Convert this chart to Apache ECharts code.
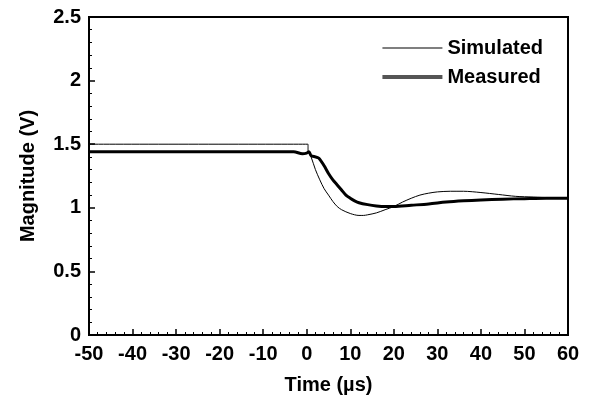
<!DOCTYPE html>
<html>
<head>
<meta charset="utf-8">
<script src="https://cdn.jsdelivr.net/npm/echarts@6/dist/echarts.min.js"></script>
<style>
  html, body { margin:0; padding:0; background:#fff; }
  #chart { width:594px; height:400px; }
</style>
</head>
<body>
<div id="chart"></div>
<script>
// ---- data ----
const simTime = [-50, 0.3, 0.3, 1, 2, 3, 4, 5, 6, 7, 8, 10, 12, 13, 14, 16, 18, 20, 22, 24, 26, 28, 30, 33, 36, 40, 44, 48, 52, 56, 60];
const simVolt = [1.5, 1.5, 1.45, 1.40, 1.30, 1.22, 1.15, 1.10, 1.05, 1.01, 0.985, 0.955, 0.94, 0.94, 0.945, 0.96, 0.985, 1.01, 1.045, 1.075, 1.10, 1.115, 1.125, 1.13, 1.13, 1.12, 1.105, 1.09, 1.085, 1.08, 1.08];

const measTime = [-50, -10, -3, -1, 0, 0.5, 1, 2, 2.8, 4, 5, 6, 7, 8, 9, 10, 11, 12, 14, 16, 18, 20, 24, 28, 32, 36, 40, 45, 50, 55, 60];
const measVolt = [1.44, 1.44, 1.44, 1.425, 1.43, 1.44, 1.41, 1.40, 1.39, 1.33, 1.27, 1.22, 1.18, 1.14, 1.10, 1.075, 1.055, 1.04, 1.025, 1.015, 1.01, 1.01, 1.02, 1.03, 1.045, 1.055, 1.062, 1.068, 1.072, 1.075, 1.075];

const xTicks = { min:-50, max:60, step:10 };
const yTicks = { min:0, max:2.5, step:0.5 };

const pair = (xs, ys) => xs.map((x, i) => [x, ys[i]]);

const font = 'Liberation Sans, Arial, sans-serif';
const bold20 = { fontFamily:font, fontWeight:'bold', fontSize:20, color:'#000' };
const chart = echarts.init(document.getElementById('chart'));
chart.setOption({
  animation:false,
  grid:{ left:89, right:26, top:17, bottom:61, show:true, borderColor:'#000', borderWidth:2, backgroundColor:'transparent' },
  legend:{
    orient:'vertical', right:46, top:33, itemWidth:60, itemHeight:14, itemGap:9,
    textStyle:bold20,
    data:[
      { name:'Simulated', itemStyle:{ opacity:0 }, lineStyle:{ color:'#555', width:1.5 } },
      { name:'Measured', itemStyle:{ opacity:0 }, lineStyle:{ color:'#555', width:4 } }
    ]
  },
  xAxis:{
    type:'value', min:xTicks.min, max:xTicks.max, interval:xTicks.step,
    name:'Time (µs)', nameLocation:'middle', nameGap:40,
    nameTextStyle:bold20,
    axisLine:{ onZero:false, lineStyle:{ color:'#000', width:2 } },
    axisTick:{ inside:true, length:6, lineStyle:{ color:'#000', width:1.5 } },
    minorTick:{ show:true, splitNumber:5, length:3, lineStyle:{ color:'#000' } },
    splitLine:{ show:false },
    axisLabel:Object.assign({ margin:9 }, bold20)
  },
  yAxis:{
    type:'value', min:yTicks.min, max:yTicks.max, interval:yTicks.step,
    name:'Magnitude (V)', nameLocation:'middle', nameGap:51, nameRotate:90,
    nameTextStyle:bold20,
    axisLine:{ onZero:false, lineStyle:{ color:'#000', width:2 } },
    axisTick:{ inside:true, length:6, lineStyle:{ color:'#000', width:1.5 } },
    minorTick:{ show:true, splitNumber:5, length:3, lineStyle:{ color:'#000' } },
    splitLine:{ show:false },
    axisLabel:Object.assign({ margin:8 }, bold20)
  },
  series:[
    { name:'Simulated', type:'line', symbol:'none', smooth:0.3, data:pair(simTime, simVolt),
      lineStyle:{ color:'#000', width:1 }, itemStyle:{ color:'#555' } },
    { name:'Measured', type:'line', symbol:'none', smooth:0.3, data:pair(measTime, measVolt),
      lineStyle:{ color:'#000', width:3 }, itemStyle:{ color:'#555' } }
  ]
});
</script>
</body>
</html>
